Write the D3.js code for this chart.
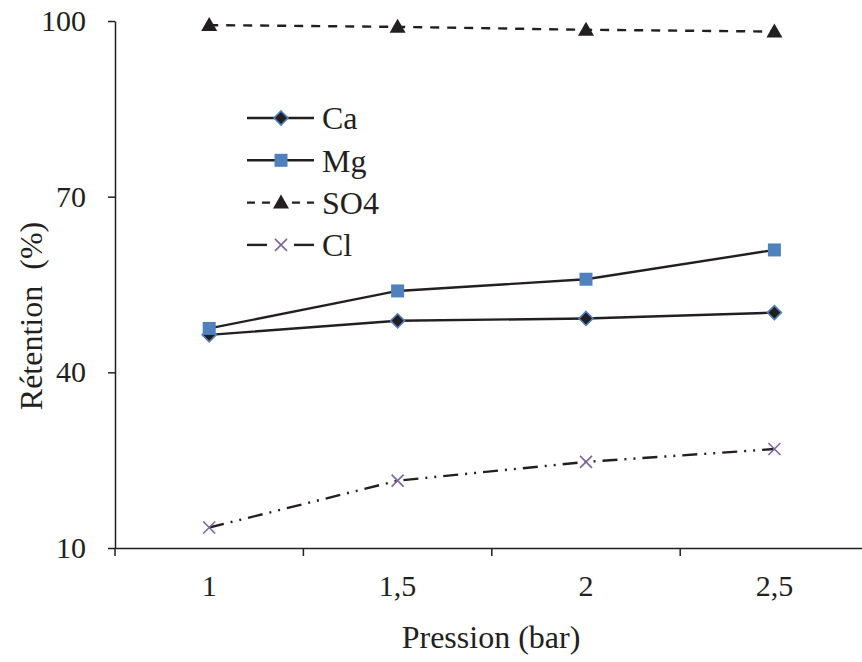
<!DOCTYPE html>
<html><head><meta charset="utf-8">
<script src="https://cdn.jsdelivr.net/npm/d3@7"></script>
<style>
html,body{margin:0;padding:0;background:#fff;}
svg{display:block;font-family:"Liberation Serif","Times New Roman",serif;}
</style></head>
<body>
<svg id="c" width="862" height="662"></svg>
<script>
const categories = ["1", "1,5", "2", "2,5"];
const caValues = [46.4, 48.8, 49.2, 50.2];
const mgValues = [47.5, 53.9, 55.9, 60.9];
const so4Values = [99.3, 99.0, 98.5, 98.2];
const clValues = [13.5, 21.5, 24.7, 26.9];
const yTicks = [10, 40, 70, 100];
const seriesNames = ["Ca", "Mg", "SO4", "Cl"];

const ink = "#231F20", blue = "#4F81BD", purple = "#8064A2";
const svg = d3.select("#c");
const x = d3.scaleBand().domain(categories).range([115, 868.6]).padding(0);
const y = d3.scaleLinear().domain([10, 100]).range([548, 21]);
const cx = c => x(c) + x.bandwidth() / 2;

// Y axis
const ya = svg.append("g").attr("transform", "translate(115,0)")
  .call(d3.axisLeft(y).tickValues(yTicks).tickSize(7).tickPadding(22).tickSizeOuter(0));
ya.select(".domain").attr("stroke", ink).attr("stroke-width", 1.5);
ya.selectAll(".tick line").attr("stroke", ink).attr("stroke-width", 1.5);
ya.selectAll("text").attr("font-size", 30).attr("fill", ink).attr("font-family", "Liberation Serif");

// X axis
const xa = svg.append("g").attr("transform", "translate(0,548)")
  .call(d3.axisBottom(x).tickSize(0).tickPadding(0).tickSizeOuter(0));
xa.select(".domain").attr("stroke", ink).attr("stroke-width", 1.5);
xa.selectAll("text").attr("font-size", 30).attr("fill", ink).attr("font-family", "Liberation Serif")
  .attr("y", 48).attr("dy", null);
xa.selectAll(".bnd").data(categories).enter().append("line")
  .attr("x1", d => x(d)).attr("x2", d => x(d)).attr("y1", 0).attr("y2", 8)
  .attr("stroke", ink).attr("stroke-width", 1.5);

// Titles
svg.append("text").attr("x", 491).attr("y", 648).attr("text-anchor", "middle")
  .attr("font-size", 32).attr("fill", ink).text("Pression (bar)");
svg.append("text").attr("transform", "translate(42,316) rotate(-90)").attr("text-anchor", "middle")
  .attr("font-size", 32).attr("fill", ink).style("white-space", "pre").text("Rétention  (%)");

const series = [
  {name: seriesNames[0], values: caValues, dash: null, marker: "diamond"},
  {name: seriesNames[1], values: mgValues, dash: null, marker: "square"},
  {name: seriesNames[2], values: so4Values, dash: "9,8", marker: "triangle"},
  {name: seriesNames[3], values: clValues, dash: "15,7,2,7,2,7", marker: "cross"}
];

function drawMarker(g, type, px, py) {
  if (type === "diamond") {
    g.append("path").attr("d", `M${px},${py - 7}L${px + 7},${py}L${px},${py + 7}L${px - 7},${py}Z`)
      .attr("fill", ink).attr("stroke", blue).attr("stroke-width", 1.6);
  } else if (type === "square") {
    g.append("rect").attr("x", px - 6.5).attr("y", py - 6.5).attr("width", 13).attr("height", 13).attr("fill", blue);
  } else if (type === "triangle") {
    g.append("path").attr("d", `M${px},${py - 8}L${px + 8},${py + 6}L${px - 8},${py + 6}Z`).attr("fill", ink);
  } else {
    g.append("path").attr("d", `M${px - 6},${py - 6}L${px + 6},${py + 6}M${px - 6},${py + 6}L${px + 6},${py - 6}`)
      .attr("stroke", purple).attr("stroke-width", 1.6).attr("fill", "none");
  }
}

const line = d3.line().x(d => cx(d.c)).y(d => y(d.v));
series.forEach(s => {
  const pts = categories.map((c, i) => ({c, v: s.values[i]}));
  const g = svg.append("g");
  g.append("path").attr("d", line(pts)).attr("fill", "none").attr("stroke", ink)
    .attr("stroke-width", 2.4).attr("stroke-dasharray", s.dash);
  pts.forEach(p => drawMarker(g, s.marker, cx(p.c), y(p.v)));
});

// Legend
const lg = svg.append("g");
series.forEach((s, i) => {
  const ly = 118 + i * 42.3;
  if (s.marker === "cross") {
    lg.append("line").attr("x1", 247).attr("x2", 267).attr("y1", ly).attr("y2", ly).attr("stroke", ink).attr("stroke-width", 2.4);
    lg.append("line").attr("x1", 294).attr("x2", 314).attr("y1", ly).attr("y2", ly).attr("stroke", ink).attr("stroke-width", 2.4);
  } else if (s.marker === "triangle") {
    lg.append("line").attr("x1", 247).attr("x2", 314).attr("y1", ly).attr("y2", ly).attr("stroke", ink)
      .attr("stroke-width", 2.4).attr("stroke-dasharray", "8,7");
  } else {
    lg.append("line").attr("x1", 247).attr("x2", 314).attr("y1", ly).attr("y2", ly).attr("stroke", ink).attr("stroke-width", 2.4);
  }
  drawMarker(lg, s.marker, 281, ly);
  lg.append("text").attr("x", 322).attr("y", ly).attr("dy", "0.35em").attr("font-size", 32).attr("fill", ink).text(s.name);
});
</script>
</body></html>
